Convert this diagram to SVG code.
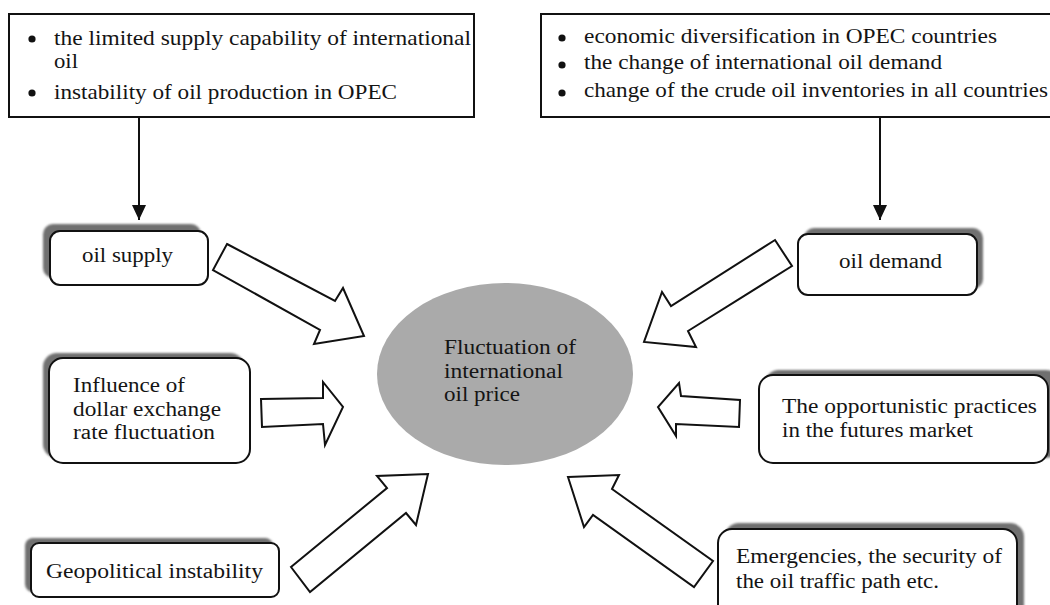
<svg xmlns="http://www.w3.org/2000/svg" width="1050" height="605" viewBox="0 0 1050 605">
<style>
.t21{font-size:22px;font-family:"Liberation Serif","Times New Roman",serif;fill:#141414}
.t20{font-size:20.5px;font-family:"Liberation Serif","Times New Roman",serif;fill:#141414}
.box{fill:#fff;stroke:#111;stroke-width:2}
.shadow{fill:#707070;filter:url(#blur)}
.blk{fill:#fff;stroke:#111;stroke-width:2;stroke-linejoin:miter}
.line{stroke:#111;stroke-width:2;fill:none}
</style>
<defs>
<filter id="blur" x="-10%" y="-20%" width="120%" height="140%"><feGaussianBlur stdDeviation="1.2"/></filter>
<marker id="ah" markerWidth="16" markerHeight="14" refX="15" refY="7" orient="auto" markerUnits="userSpaceOnUse" viewBox="0 0 16 14">
<path d="M0,0 L15,7 L0,14 Z" fill="#111"/>
</marker>
</defs>
<rect width="1050" height="605" fill="#fff"/>

<g id="node-supply-factors">
<rect class="box" x="9" y="14" width="465" height="103"/>
<circle cx="32" cy="39" r="3.6" fill="#111"/>
<circle cx="32" cy="93" r="3.6" fill="#111"/>
<text class="t21" x="54" y="45" textLength="417" lengthAdjust="spacingAndGlyphs">the limited supply capability of international</text>
<text class="t21" x="54" y="68" textLength="24" lengthAdjust="spacingAndGlyphs">oil</text>
<text class="t21" x="54" y="99" textLength="343" lengthAdjust="spacingAndGlyphs">instability of oil production in OPEC</text>
</g>

<g id="node-demand-factors">
<rect class="box" x="541" y="14" width="520" height="103"/>
<circle cx="562" cy="38" r="3.6" fill="#111"/>
<circle cx="562" cy="65" r="3.6" fill="#111"/>
<circle cx="562" cy="93" r="3.6" fill="#111"/>
<text class="t21" x="584" y="43" textLength="413" lengthAdjust="spacingAndGlyphs">economic diversification in OPEC countries</text>
<text class="t21" x="584" y="69" textLength="358" lengthAdjust="spacingAndGlyphs">the change of international oil demand</text>
<text class="t21" x="584" y="97" textLength="464" lengthAdjust="spacingAndGlyphs">change of the crude oil inventories in all countries</text>
</g>

<g id="node-oil-supply">
<rect class="shadow" x="43" y="224" width="158" height="54" rx="10"/>
<rect class="box" x="50" y="231" width="158" height="54" rx="10"/>
<text class="t20" x="82" y="262" textLength="91" lengthAdjust="spacingAndGlyphs">oil supply</text>
</g>

<g id="node-oil-demand">
<rect class="shadow" x="804" y="228" width="179" height="61" rx="10"/>
<rect class="box" x="798" y="234" width="179" height="61" rx="10"/>
<text class="t20" x="839" y="268" textLength="103" lengthAdjust="spacingAndGlyphs">oil demand</text>
</g>

<g id="node-center">
<ellipse cx="505" cy="374" rx="128" ry="91" fill="#aaaaaa"/>
<text class="t20" x="444" y="354" textLength="132" lengthAdjust="spacingAndGlyphs">Fluctuation of</text>
<text class="t20" x="444" y="378" textLength="119" lengthAdjust="spacingAndGlyphs">international</text>
<text class="t20" x="444" y="401" textLength="76" lengthAdjust="spacingAndGlyphs">oil price</text>
</g>

<g id="node-dollar">
<rect class="shadow" x="43" y="353" width="201" height="105" rx="14"/>
<rect class="box" x="49" y="358" width="201" height="105" rx="14"/>
<text class="t20" x="73" y="392" textLength="112" lengthAdjust="spacingAndGlyphs">Influence of</text>
<text class="t20" x="73" y="416" textLength="148" lengthAdjust="spacingAndGlyphs">dollar exchange</text>
<text class="t20" x="73" y="439" textLength="142" lengthAdjust="spacingAndGlyphs">rate fluctuation</text>
</g>

<g id="node-geopolitical">
<rect class="shadow" x="25" y="538" width="248" height="54" rx="8"/>
<rect class="box" x="31" y="543" width="248" height="54" rx="8"/>
<text class="t20" x="46" y="578" textLength="217" lengthAdjust="spacingAndGlyphs">Geopolitical instability</text>
</g>

<g id="node-futures">
<rect class="shadow" x="765" y="370" width="295" height="88" rx="14"/>
<rect class="box" x="759" y="375" width="289" height="88" rx="14"/>
<text class="t20" x="782" y="413" textLength="255" lengthAdjust="spacingAndGlyphs">The opportunistic practices</text>
<text class="t20" x="782" y="437" textLength="191" lengthAdjust="spacingAndGlyphs">in the futures market</text>
</g>

<g id="node-emergencies">
<rect class="shadow" x="725" y="523" width="299" height="100" rx="14"/>
<rect class="box" x="718" y="529" width="299" height="100" rx="14"/>
<text class="t20" x="736" y="563" textLength="266" lengthAdjust="spacingAndGlyphs">Emergencies, the security of</text>
<text class="t20" x="736" y="588" textLength="203" lengthAdjust="spacingAndGlyphs">the oil traffic path etc.</text>
</g>

<g id="connectors">
<line class="line" x1="139" y1="117" x2="139" y2="220" marker-end="url(#ah)"/>
<line class="line" x1="880" y1="117" x2="880" y2="220" marker-end="url(#ah)"/>
<polygon class="blk" points="227,244 335,301 343,288 364,336 314,344 320,330 213,270"/>
<polygon class="blk" points="775,240 792,266 688,331 696,347 644,342 662,292 671,306"/>
<polygon class="blk" points="261,399 323,398 323,382 343,407 325,445 323,424 262,427"/>
<polygon class="blk" points="679,383 681,396 740,400 739,427 676,424 676,436 658,407"/>
<polygon class="blk" points="291,567 387,488 377,476 428,474 416,525 406,513 310,592"/>
<polygon class="blk" points="568,477 619,475 612,489 713,561 694,587 593,515 584,527"/>
</g>
</svg>
